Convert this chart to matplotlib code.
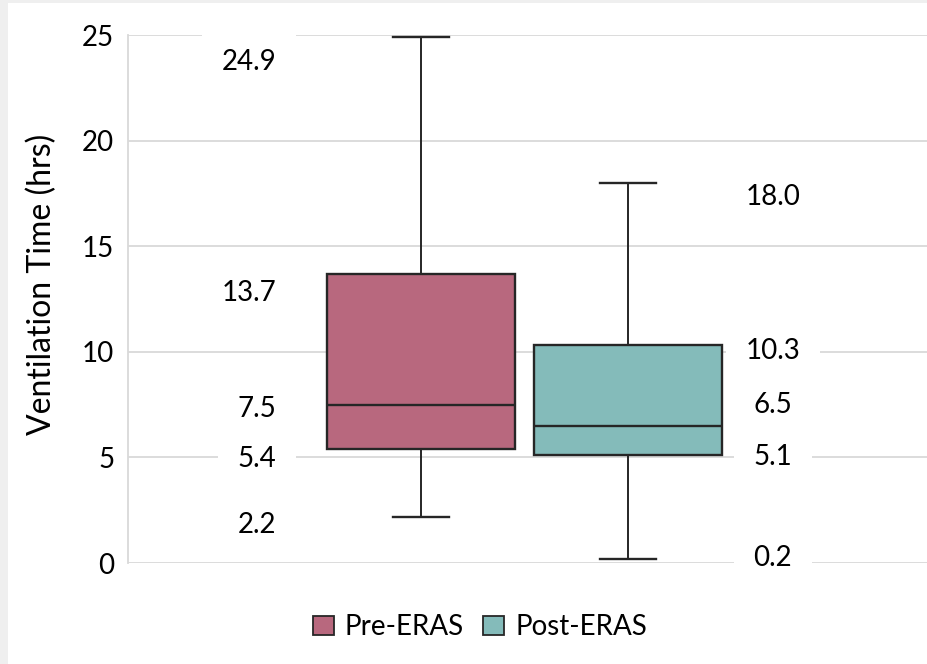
import matplotlib
matplotlib.use("Agg")
import matplotlib.pyplot as plt
from matplotlib.patches import Rectangle, Patch

plt.rcParams['font.family'] = ['Lato', 'DejaVu Sans']

groups = ['Pre-ERAS', 'Post-ERAS']
colors = ['#b8687e', '#84bbba']
q1 = [5.4, 5.1]
med = [7.5, 6.5]
q3 = [13.7, 10.3]
lo = [2.2, 0.2]
hi = [24.9, 18.0]

# label offsets (pixels) for the value labels, as placed in the original
pre_off = {24.9: -25, 13.7: -19, 7.5: -4, 5.4: -10, 2.2: -8}
post_off = {18.0: -14, 10.3: -6, 6.5: 21, 5.1: -2, 0.2: 1}

fig = plt.figure(figsize=(9.28, 6.64), dpi=100)
fig.patch.set_facecolor('#efefef')
fig.patches.append(Rectangle((8 / 928, 0), 1, 1 - 3 / 664, transform=fig.transFigure,
                             facecolor='white', edgecolor='none', zorder=-5))

ax = fig.add_axes([128 / 928, 1 - 563 / 664, 1 - 128 / 928, 528 / 664])
ax.set_facecolor('white')

stats = []
for i in range(2):
    stats.append(dict(med=med[i], q1=q1[i], q3=q3[i], whislo=lo[i], whishi=hi[i], fliers=[]))

bp = ax.bxp(stats, positions=[1, 2], widths=0.913, patch_artist=True,
            showfliers=False, capwidths=0.275,
            boxprops=dict(edgecolor='#262626', linewidth=1.7),
            medianprops=dict(color='#262626', linewidth=1.7),
            whiskerprops=dict(color='#262626', linewidth=1.4),
            capprops=dict(color='#262626', linewidth=1.7))
for patch, c in zip(bp['boxes'], colors):
    patch.set_facecolor(c)
    patch.set_zorder(3)
for m in bp['medians']:
    m.set_zorder(4)

for v, off in pre_off.items():
    ax.annotate(f'{v:.1f}', (0.30, v), xytext=(0, off), textcoords='offset pixels',
                ha='right', va='center', fontsize=20, color='black', zorder=5,
                bbox=dict(boxstyle='square,pad=0.7', fc='white', ec='none'))
for v, off in post_off.items():
    ax.annotate(f'{v:.1f}', (2.70, v), xytext=(0, off), textcoords='offset pixels',
                ha='center', va='center', fontsize=20, color='black', zorder=5,
                bbox=dict(boxstyle='square,pad=0.7', fc='white', ec='none'))

ax.set_xlim(1 - 293 / 207, 2 + 300 / 207)
ax.set_ylim(0, 25)
ax.set_yticks([0, 5, 10, 15, 20, 25])
ax.set_xticks([])
ax.tick_params(axis='y', length=0, pad=10, labelsize=20)
ax.yaxis.grid(True, color='#d9d9d9', linewidth=1.3, zorder=0)
ax.set_axisbelow(True)
for s in ['top', 'right', 'bottom']:
    ax.spines[s].set_visible(False)
ax.spines['left'].set_color('#d9d9d9')
ax.spines['left'].set_linewidth(1.3)

ax.set_ylabel('Ventilation Time (hrs)', fontsize=23)
ax.yaxis.set_label_coords(-0.089, 0.527)

handles = [Patch(facecolor=c, edgecolor='#262626', linewidth=1.3, label=g)
           for c, g in zip(colors, groups)]
fig.legend(handles=handles, loc='center', bbox_to_anchor=(480 / 928, 1 - 627 / 664),
           ncol=2, frameon=False, fontsize=20, handlelength=0.75, handleheight=0.65,
           handletextpad=0.4, columnspacing=0.7)

fig.savefig('out.png', dpi=100, facecolor=fig.get_facecolor())
